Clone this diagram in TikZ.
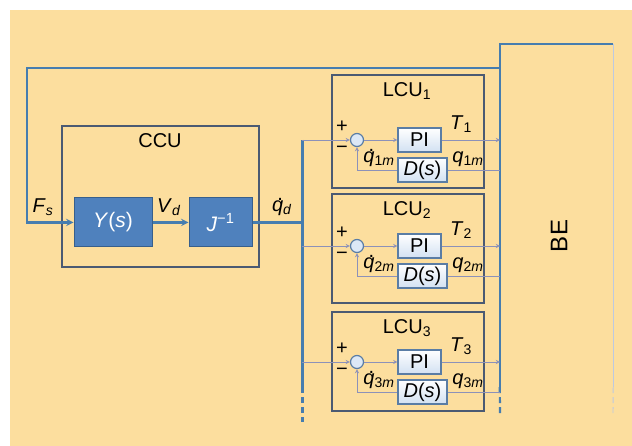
\documentclass[tikz,border=0pt]{standalone}
\usepackage{fontspec}
\setmainfont{Liberation Sans}
\usetikzlibrary{arrows,positioning,calc}
\usepackage{xcolor}

\definecolor{bgorange}{RGB}{252,222,158}
\definecolor{lineblue}{RGB}{70,125,175}
\definecolor{blockblue}{RGB}{79,129,189}
\definecolor{blockedge}{RGB}{55,95,140}
\definecolor{unitedge}{RGB}{75,90,115}
\definecolor{thinline}{RGB}{140,145,185}
\definecolor{ctrledge}{RGB}{90,125,165}
\definecolor{ctrlfill}{RGB}{210,225,242}
\definecolor{sumfill}{RGB}{220,232,246}

\newcommand{\qdot}{\makebox[0pt][l]{\hspace{0.26em}\raisebox{0.56em}{.}}\textit{q}}
\newcommand{\var}[2]{\textit{#1}\textsubscript{\textit{#2}}}

\begin{document}
\begin{tikzpicture}[
  x=1pt, y=-1pt,
  font=\fontsize{20}{22}\selectfont,
  mainline/.style={draw=lineblue, line width=2.2pt},
  bus/.style={draw=lineblue, line width=3pt},
  sig/.style={draw=thinline, line width=0.9pt},
  arrow/.style={->, >=stealth},
  block/.style={rectangle, draw=blockedge, fill=blockblue, line width=1pt, text=white, font=\fontsize{21}{23}\selectfont},
  unit/.style={rectangle, draw=unitedge, line width=1.4pt},
  ctrl/.style={rectangle, draw=ctrledge, line width=1.2pt, top color=white, bottom color=ctrlfill, inner sep=0pt},
  sum/.style={circle, draw=ctrledge, fill=sumfill, line width=1.2pt, minimum size=13pt, inner sep=0pt}
]
  \useasboundingbox (0,0) rectangle (632,446);
  \fill[bgorange] (10,10) rectangle (632,446);

  % central control unit
  \node[unit, minimum width=197pt, minimum height=141pt] (ccu) at (160.5,196.5) {};
  \node (ccutitle) at (160,141) {CCU};
  \node[block, minimum width=78pt, minimum height=49pt] (ys) at (113,222.5) {\textit{Y}(\textit{s})};
  \node[block, minimum width=63pt, minimum height=49pt, right=36pt of ys] (jinv) {\textit{J}\textsuperscript{−1}};
  \draw[mainline, arrow] (ys) -- (jinv);
  \node (fs) at (43,207) {\var{F}{s}};
  \node (vd) at (169,207) {\var{V}{d}};
  \node (qd) at (282,207) {\qdot\textsubscript{\textit{d}}};

  % back end
  \node[minimum width=113pt, minimum height=343pt, inner sep=0pt] (be) at (556.5,215.5) {};
  \node[rotate=90, font=\fontsize{24}{26}\selectfont] (betext) at (559,236) {BE};
  \coordinate (bedash) at (500,415);
  \coordinate (beedge) at (613,415);
  \draw[mainline] (be.south west) |- (be.north east);
  \draw[mainline, dash pattern=on 6pt off 4pt] (be.south west) -- (bedash);
  \draw[sig, draw=ctrlfill!70!thinline] (be.north east) -- (be.south east);
  \draw[sig, draw=ctrlfill!70!thinline, dash pattern=on 6pt off 4pt] (be.south east) -- (beedge);

  % feedback from BE
  \coordinate (fb) at (500,68);
  \coordinate (fbc) at (27,68);
  \draw[mainline, arrow] (fb) -- (fbc) |- (ys.west);

  % bus to local units
  \coordinate (bustop) at (302,140);
  \coordinate (busend) at (302,387);
  \coordinate (busdash) at (302,422);
  \draw[bus] (jinv.east) -- (jinv.east -| bustop);
  \draw[bus] (bustop) -- (busend);
  \draw[bus, dash pattern=on 6pt off 4pt] (busend) -- (busdash);

  % local control units
  \foreach \i/\top/\h/\yr in {1/75/113/140, 2/194/109/246, 3/312/99/362} {
    \node[unit, minimum width=152pt, minimum height=\h pt] (lcu\i) at (408,\top+\h/2) {};
    \node (lcut\i) at (407,\top+16) {LCU\textsubscript{\i}};
    \node[sum] (s\i) at (357,\yr) {};
    \node[ctrl, minimum width=43pt, minimum height=24pt] (pi\i) at (419.5,\yr) {PI};
    \coordinate (in\i) at (302,\yr);
    \coordinate (out\i) at (500,\yr);
    \coordinate (fb\i) at (500,\yr+30);
    \draw[sig, arrow] (in\i) -- (s\i);
    \draw[sig, arrow] (s\i) -- (pi\i);
    \draw[sig, arrow] (pi\i) -- (out\i);
    \draw[sig, arrow] (fb\i) -| (s\i);
    \node[ctrl, minimum width=49pt, minimum height=24pt] (ds\i) at (422.5,\yr+30) {\textit{D}(\textit{s})};
    \node (plus\i) at (342,\yr-13) {+};
    \node (minus\i) at (342,\yr+10) {−};
    \node (qm\i) at (379,\yr+18) {\qdot\textsubscript{\i\textit{m}}};
    \node (t\i) at (461,\yr-16) {\textit{T}\textsubscript{\i}};
    \node (q\i) at (468,\yr+19) {\textit{q}\textsubscript{\i\textit{m}}};
  }
\end{tikzpicture}
\end{document}
